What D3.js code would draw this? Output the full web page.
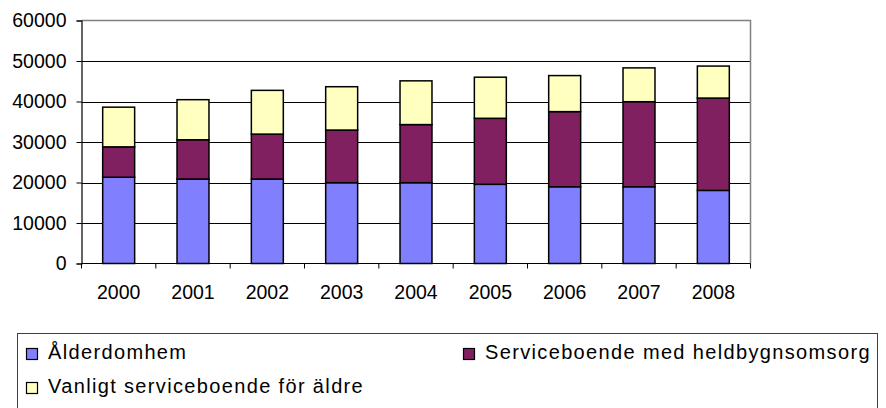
<!DOCTYPE html>
<html>
<head>
<meta charset="utf-8">
<script src="https://cdn.jsdelivr.net/npm/d3@7"></script>
<style>
  body { margin: 0; background: #fff; }
  text { font-family: "Liberation Sans", Arial, sans-serif; fill: #000; }
</style>
</head>
<body>
<div id="chart"></div>
<script>
// data
const years = ["2000", "2001", "2002", "2003", "2004", "2005", "2006", "2007", "2008"];
const alderdomhem = [21300, 20850, 20850, 19950, 19950, 19550, 18950, 18950, 18050];
const heldygn = [7500, 9700, 11100, 13000, 14350, 16300, 18550, 21000, 22800];
const vanligt = [9800, 9900, 10800, 10700, 10800, 10150, 8900, 8350, 7900];
const seriesNames = ["Ålderdomhem", "Serviceboende med heldbygnsomsorg", "Vanligt serviceboende för äldre"];
const yTicks = [0, 10000, 20000, 30000, 40000, 50000, 60000];

const colors = ["#8080ff", "#802060", "#ffffc0"];

const width = 886;
const height = 408;
const plot = {left: 81.5, right: 750.5, top: 20.5, bottom: 263.5};

const svg = d3
  .select("#chart")
  .append("svg")
  .attr("width", width)
  .attr("height", height);

const rows = years.map((y, i) => ({
  year: y,
  a: alderdomhem[i],
  b: heldygn[i],
  c: vanligt[i]
}));
const stacked = d3.stack().keys(["a", "b", "c"])(rows);

const xScale = d3.scaleBand().domain(years).range([plot.left, plot.right]);
const yScale = d3.scaleLinear().domain([0, 60000]).range([plot.bottom, plot.top]);

// grid lines
svg
  .append("g")
  .selectAll("line")
  .data(yTicks.filter((d) => d > 0 && d < 60000))
  .join("line")
  .attr("x1", plot.left)
  .attr("x2", plot.right)
  .attr("y1", (d) => Math.round(yScale(d)) + 0.5)
  .attr("y2", (d) => Math.round(yScale(d)) + 0.5)
  .attr("stroke", "#000")
  .attr("stroke-width", 1);

// plot area border (top and right grey)
svg
  .append("path")
  .attr("d", `M${plot.left},${plot.top}H${plot.right}V${plot.bottom}`)
  .attr("fill", "none")
  .attr("stroke", "#808080")
  .attr("stroke-width", 1.5);

// bars
const barW = xScale.bandwidth() * 0.43;
svg
  .append("g")
  .selectAll("g")
  .data(stacked)
  .join("g")
  .attr("fill", (d, i) => colors[i])
  .selectAll("rect")
  .data((d) => d)
  .join("rect")
  .attr("x", (d) => xScale(d.data.year) + (xScale.bandwidth() - barW) / 2)
  .attr("y", (d) => yScale(d[1]))
  .attr("width", barW)
  .attr("height", (d) => yScale(d[0]) - yScale(d[1]))
  .attr("stroke", "#000")
  .attr("stroke-width", 1.5);

// y axis
const yAxis = d3.axisLeft(yScale).tickValues(yTicks).tickSize(5).tickPadding(10).tickFormat(d3.format("d"));
const yAxisGroup = svg
  .append("g")
  .attr("transform", `translate(${plot.left},0)`)
  .call(yAxis);
yAxisGroup.select(".domain").attr("stroke", "#000").attr("stroke-width", 1.2);
yAxisGroup.selectAll("text").attr("font-size", 19.5);

// x axis with ticks on band boundaries
svg
  .append("line")
  .attr("x1", plot.left)
  .attr("x2", plot.right)
  .attr("y1", plot.bottom)
  .attr("y2", plot.bottom)
  .attr("stroke", "#000")
  .attr("stroke-width", 1.2);

svg
  .append("g")
  .selectAll("line")
  .data(years.concat(["end"]))
  .join("line")
  .attr("x1", (d) => (d === "end" ? plot.right : xScale(d)))
  .attr("x2", (d) => (d === "end" ? plot.right : xScale(d)))
  .attr("y1", plot.bottom)
  .attr("y2", plot.bottom + 5)
  .attr("stroke", "#000");

svg
  .append("g")
  .selectAll("text")
  .data(years)
  .join("text")
  .attr("x", (d) => xScale(d) + xScale.bandwidth() / 2)
  .attr("y", 299)
  .attr("text-anchor", "middle")
  .attr("font-size", 19.5)
  .text((d) => d);

// legend
svg
  .append("rect")
  .attr("x", 17.5)
  .attr("y", 333.5)
  .attr("width", 860)
  .attr("height", 100)
  .attr("fill", "none")
  .attr("stroke", "#404040")
  .attr("stroke-width", 1);

const legendPos = [
  {x: 26, y: 348},
  {x: 463, y: 348},
  {x: 26, y: 382}
];

const legend = svg
  .append("g")
  .selectAll("g")
  .data(seriesNames)
  .join("g")
  .attr("transform", (d, i) => `translate(${legendPos[i].x},${legendPos[i].y})`);

legend
  .append("rect")
  .attr("x", 0.5)
  .attr("y", 0.5)
  .attr("width", 11)
  .attr("height", 11)
  .attr("fill", (d, i) => colors[i])
  .attr("stroke", "#000")
  .attr("stroke-width", 1.2);

legend
  .append("text")
  .attr("x", 22)
  .attr("y", 11)
  .attr("font-size", 20)
  .attr("letter-spacing", "1.35px")
  .text((d) => d);
</script>
</body>
</html>
